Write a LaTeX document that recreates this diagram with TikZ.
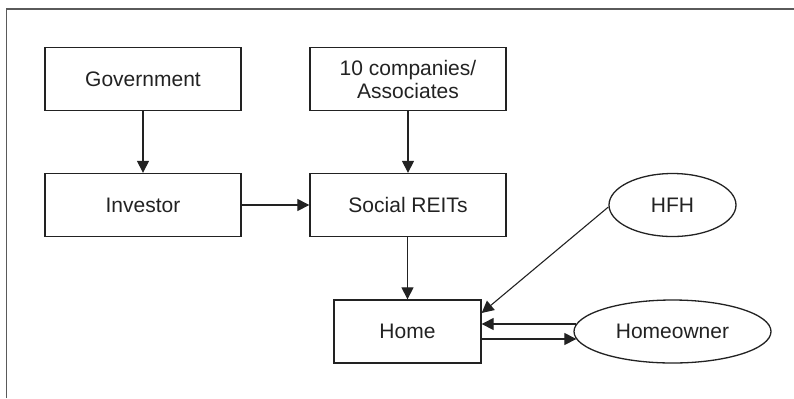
\documentclass[tikz,border=0pt]{standalone}
\usepackage{fontspec}
\setmainfont{Liberation Sans}
\usetikzlibrary{arrows.meta,shapes.geometric}
\definecolor{ink}{HTML}{222222}
\definecolor{framegray}{HTML}{5A5A5A}
\begin{document}
\begin{tikzpicture}[x=0.5pt,y=-0.5pt,
  every node/.style={font=\fontsize{10.5}{11.5}\selectfont, text=ink},
  box/.style={draw=ink, line width=0.65pt, rectangle, inner sep=0pt, align=center,
              minimum width=98pt, minimum height=31.5pt},
  homebox/.style={box, minimum width=73.5pt},
  oval/.style={draw=ink, line width=0.65pt, ellipse, inner sep=0pt,
               minimum height=31.5pt},
  flow/.style={draw=ink, line width=0.55pt, -{Triangle[length=6pt,width=6pt]}}]
  \useasboundingbox (0,0) rectangle (794,398);
  % open frame: left and top edges only
  \draw[framegray, line width=0.8pt] (6.5,398) -- (6.5,9) -- (794,9);

  \node[box] (gov) at (143,79) {Government};
  \node[box] (comp) at (408,79) {10 companies/\\Associates};
  \node[box] (inv) at (143,205) {Investor};
  \node[box] (reit) at (408,205) {Social REITs};
  \node[homebox] (home) at (407.5,331.5) {Home};
  \node[oval, minimum width=63.5pt] (hfh) at (672.5,205) {HFH};
  \node[oval, minimum width=98.5pt] (owner) at (672.5,331.5) {Homeowner};

  \draw[flow] (gov) -- (inv);
  \draw[flow] (comp) -- (reit);
  \draw[flow] (inv) -- (reit);
  \draw[flow] (reit.south -| home.north) -- (home.north);
  \draw[flow] ([yshift=-1pt]hfh.west) -- ([yshift=9.25pt]home.east);
  \draw[flow] ([xshift=1.5pt,yshift=3.75pt]owner.west) -- ([yshift=3.75pt]home.east);
  \draw[flow] ([yshift=-3.75pt]home.east) -- ([xshift=1.5pt,yshift=-3.75pt]owner.west);
\end{tikzpicture}
\end{document}
